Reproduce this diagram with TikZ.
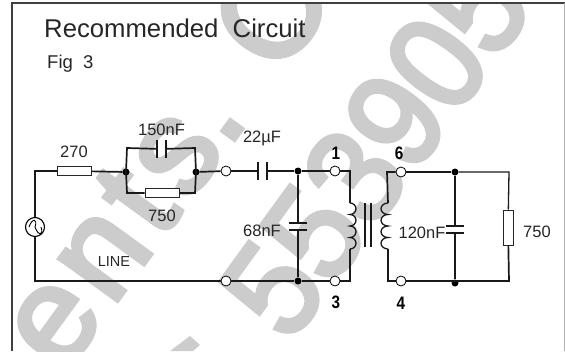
\documentclass[tikz,border=0pt]{standalone}
\usepackage{fontspec}
\setmainfont{Liberation Sans}
\font\markfont="Liberation Sans:embolden=3.5" at 135pt
\usetikzlibrary{positioning}

\begin{document}
\begin{tikzpicture}[%
    x=1pt, y=-1pt,
    % Styles
    wire/.style={line width=1.7pt, black!90},
    thinwire/.style={line width=1.3pt, black!90},
    res/.style={draw=black!85, line width=1pt, rectangle, fill=white, inner sep=0pt},
    resh/.style={res, minimum width=34pt, minimum height=9pt},
    resv/.style={res, minimum width=10pt, minimum height=35pt},
    caph/.style={rectangle, inner sep=0pt, minimum width=8pt, minimum height=17pt},
    capv/.style={rectangle, inner sep=0pt, minimum width=17pt, minimum height=7pt},
    plate/.style={line width=1.9pt, black!90},
    coil/.style={line width=1.3pt, black!90},
    term/.style={draw=black, line width=0.8pt, circle, fill=white, inner sep=0pt, minimum size=10pt},
    dotnode/.style={circle, fill=black, inner sep=0pt, minimum size=7pt},
    corner/.style={inner sep=0pt, minimum size=0pt},
    lbl/.style={font=\fontsize{16.5}{16.5}\selectfont, text=black!85, inner sep=0pt},
    termlbl/.style={font=\fontsize{18}{18}\selectfont\bfseries, inner sep=0pt, xscale=0.85},
    wmark/.style={font=\markfont, text=black!20, inner sep=0pt}
]
\useasboundingbox (0,0) rectangle (565,351);

% --- 1. Watermark ---
\begin{scope}
    \clip (12,3) rectangle (565,351);
    \node[wmark, rotate=54] (mark_a) at (162,160) {e\kern8pt n\kern8pt t\kern8pt s. C};
    \node[wmark, rotate=54, xscale=0.93] (mark_b) at (375,148) {553905};
    \fill[black!20] (170,351) -- (190,336) -- (200,345) -- (193,351) -- cycle;
\end{scope}

% --- 2. Frame and titles ---
\draw[line width=1.3pt, black!75] (12,351) -- (12,3) -- (565,3);
\draw[line width=0.4pt, black!30] (564.5,3) -- (564.5,351);
\node[font=\fontsize{25.7}{25.7}\selectfont, text=black!85, inner sep=0pt, anchor=base west] (title) at (44,37) {Recommended\ \ Circuit};
\node[font=\fontsize{18.5}{18.5}\selectfont, text=black!85, inner sep=0pt, anchor=base west] (figno) at (47,68) {Fig\ \ 3};

% --- 3. Primary side ---
\node[corner] (bl) at (35,281) {};
\node[draw=black, line width=1.1pt, circle, fill=white, inner sep=0pt, minimum size=19pt] (src) at (35,227) {};
\draw[line width=0.9pt] (src.center) ++(-6,0) .. controls ++(3,-9) and ++(3,-9) .. ++(6,0) .. controls ++(3,9) and ++(3,9) .. ++(6,0);
\node[resh] (r270) at (74,171) {};
\node[dotnode] (ja) at (126,172) {};
\node[dotnode] (jb) at (196,172) {};
\node[corner] (ua) at (127,148) {};
\node[corner] (ub) at (195,148) {};
\node[caph] (c150) at (161.5,149) {};
\node[corner] (la) at (127,193) {};
\node[corner] (lb) at (195,193) {};
\node[resh] (r750) at (162,193) {};
\node[term] (p_a) at (226,171) {};
\node[caph] (c22) at (262.5,171) {};
\node[dotnode] (jc) at (298,171) {};
\node[term] (p1) at (335,171) {};
\node[corner] (ct) at (350,171) {};
\node[term] (p_b) at (226,281) {};
\node[dotnode] (jd) at (298,281) {};
\node[term] (p3) at (335,281) {};
\node[corner] (cb) at (350,281) {};
\node[capv] (c68) at (298,226.5) {};
\node[corner] (ls_t) at (350,203) {};
\node[corner] (ls_b) at (350,249) {};

\draw[thinwire] (r270) -| (src);
\draw[thinwire] (src) -- (bl.center) -- (p_b);
\draw[wire] (r270) -- (ja);
\draw[wire] (ja.center) -- (ua.center) -- (c150);
\draw[wire] (c150) -- (ub.center) -- (jb.center);
\draw[wire] (ja.center) -- (la.center) -- (r750);
\draw[wire] (r750) -- (lb.center) -- (jb.center);
\draw[wire] (jb) -- (p_a);
\draw[wire] (p_a) -- (c22);
\draw[wire] (c22) -- (jc);
\draw[wire] (jc) -- (p1);
\draw[wire] (p1) -- (ct.center) -- (ls_t.center);
\draw[wire] (p_b) -- (jd);
\draw[thinwire] (jd) -- (p3);
\draw[thinwire] (p3) -- (cb.center) -- (ls_b.center);
\draw[wire] (jc) -- (c68);
\draw[wire] (c68) -- (jd);

% Capacitor plates
\foreach \c in {c150, c22} {
    \draw[plate] (\c.north west) -- (\c.south west);
    \draw[plate] (\c.north east) -- (\c.south east);
}
\draw[plate] (c68.north west) -- (c68.north east);
\draw[plate] (c68.south west) -- (c68.south east);

% --- 4. Transformer ---
\node[corner] (rs_t) at (388,203) {};
\node[corner] (rs_b) at (388,249) {};
\draw[coil] (ls_t.center) arc[start angle=90, end angle=-90, x radius=6pt, y radius=5.75pt] arc[start angle=90, end angle=-90, x radius=6pt, y radius=5.75pt] arc[start angle=90, end angle=-90, x radius=6pt, y radius=5.75pt] arc[start angle=90, end angle=-90, x radius=6pt, y radius=5.75pt];
\draw[coil] (rs_t.center) arc[start angle=90, end angle=270, x radius=7pt, y radius=5.75pt] arc[start angle=90, end angle=270, x radius=7pt, y radius=5.75pt] arc[start angle=90, end angle=270, x radius=7pt, y radius=5.75pt] arc[start angle=90, end angle=270, x radius=7pt, y radius=5.75pt];
\node[corner] (core_at) at (365,203) {};
\node[corner] (core_ab) at (365,247) {};
\node[corner] (core_bt) at (371,203) {};
\node[corner] (core_bb) at (371,247) {};
\draw[plate] (core_at.center) -- (core_ab.center);
\draw[plate] (core_bt.center) -- (core_bb.center);

% --- 5. Secondary side ---
\node[corner] (st) at (387,172) {};
\node[corner] (sb) at (388,281) {};
\node[term] (p6) at (401,172) {};
\node[dotnode] (je) at (455,172) {};
\node[dotnode] (jf) at (455,283) {};
\node[corner] (rt) at (509,172) {};
\node[corner] (rb) at (509,281) {};
\node[capv] (c120) at (455,229.5) {};
\node[resv] (r750b) at (508,227.5) {};

\draw[wire] (rs_t.center) -- (st.center) -- (p6);
\draw[wire] (p6) -- (je);
\draw[thinwire] (je) -- (rt.center) -- (r750b);
\draw[wire] (r750b) -- (rb.center) -- (sb.center) -- (rs_b.center);
\draw[wire] (je) -- (c120);
\draw[wire] (c120) -- (jf);
\node[term] (p4) at (401,281) {};
\draw[plate] (c120.north west) -- (c120.north east);
\draw[plate] (c120.south west) -- (c120.south east);

% --- 6. Labels ---
\node[lbl, above=8.5pt of r270] (l270) {270};
\node[lbl, above=4.5pt of c150] (l150) {150nF};
\node[lbl, below=11.5pt of r750] (l750) {750};
\node[lbl] (l22) at (262,138) {22µF};
\node[lbl] (l68) at (262,231) {68nF};
\node[lbl, font=\fontsize{14.5}{14.5}\selectfont] (lline) at (114,262) {LINE};
\node[lbl] (l120) at (422,233) {120nF};
\node[lbl] (l750b) at (537,232) {750};
\node[termlbl] (n1) at (336,153) {1};
\node[termlbl] (n6) at (399,153) {6};
\node[termlbl] (n3) at (336,302) {3};
\node[termlbl] (n4) at (401,303) {4};

\end{tikzpicture}
\end{document}
